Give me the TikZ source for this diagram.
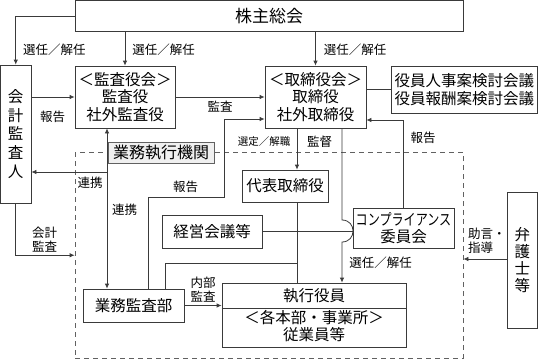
\documentclass[tikz,border=0pt]{standalone}
\usepackage{fontspec}
\usepackage{graphicx}
\newfontfamily\cjk{Noto Sans CJK JP}
\usetikzlibrary{arrows.meta,calc}
\definecolor{ln}{HTML}{3A3A3A}
\begin{document}
\begin{tikzpicture}[x=1pt,y=-1pt,
  box/.style={draw=ln, fill=white, line width=0.8pt, inner sep=0pt, align=center,
    font=\cjk\fontsize{15.5}{17.5}\selectfont},
  txt/.style={inner sep=0pt, align=center, font=\cjk\fontsize{15.5}{17.5}\selectfont},
  lbl/.style={inner sep=0pt, align=center, font=\cjk\fontsize{12.5}{14}\selectfont},
  lblsm/.style={inner sep=0pt, align=center, font=\cjk\fontsize{10.5}{12}\selectfont},
  conn/.style={draw=ln, line width=0.8pt},
  arr/.style={conn, -{Latex[length=5pt,width=4.5pt]}},
  arrtwo/.style={conn, {Latex[length=5pt,width=4.5pt]}-{Latex[length=5pt,width=4.5pt]}}]
\useasboundingbox (0,0) rectangle (538,359);

% dashed execution area
\node[draw=ln!80, line width=0.8pt, dash pattern=on 5pt off 4pt, minimum width=388pt, minimum height=205.5pt, inner sep=0pt] (exec) at (269,255.25) {};

% boxes
\node[box, minimum width=388pt, minimum height=31pt, font=\cjk\fontsize{17}{20}\selectfont] (kabu) at (269,16) {株主総会};
\node[box, minimum width=30.5pt, minimum height=138pt, font=\cjk\fontsize{15.5}{18.7}\selectfont] (kaikei) at (15.75,134) {会\\計\\監\\査\\人};
\node[box, minimum width=100pt, minimum height=62pt] (kansa) at (125,97) {＜監査役会＞\\監査役\\社外監査役};
\node[box, minimum width=101pt, minimum height=62pt] (tori) at (315.5,97) {＜取締役会＞\\取締役\\社外取締役};
\node[box, minimum width=146.5pt, minimum height=47pt] (yakuin) at (464.25,89.5) {役員人事案検討会議\\役員報酬案検討会議};
\node[box, fill=gray!12, draw=ln!80, minimum width=106pt, minimum height=21pt, font=\cjk\fontsize{16}{18}\selectfont] (gyomu) at (161,152.5) {業務執行機関};
\node[box, minimum width=86pt, minimum height=32pt] (daihyo) at (285,186) {代表取締役};
\node[box, minimum width=100pt, minimum height=33pt] (keiei) at (212,231.5) {経営会議等};
\node[box, minimum width=101pt, minimum height=40pt, font=\cjk\fontsize{15.5}{17}\selectfont] (comp) at (403.5,228) {\scalebox{0.78}[1]{コンプライアンス}\\委員会};
\node[box, minimum width=101pt, minimum height=33pt] (gyokan) at (133.5,305.5) {業務監査部};
\node[box, minimum width=184pt, minimum height=64pt] (shikko) at (314,315) {};
\node[txt] (shikkoT) at (314,295.5) {執行役員};
\node[txt] (shikkoB) at (314,326) {＜各本部・事業所＞\\従業員等};
\draw[conn] (shikko.west |- 0,308) -- (shikko.east |- 0,308);
\node[box, minimum width=30.5pt, minimum height=136pt, font=\cjk\fontsize{15.5}{16.8}\selectfont] (bengo) at (522.25,260) {弁\\護\\士\\等};

% helper coordinates
\coordinate (r1) at (403.5,120);
\coordinate (g1) at (148,197);
\coordinate (g2) at (224,197);
\coordinate (g3) at (224,119);
\coordinate (k1) at (107,0);
\coordinate (k2) at (107,172);
\coordinate (d1) at (297,0);
\coordinate (s1) at (342,220);
\coordinate (s2) at (342,242);
\coordinate (h1) at (165,263);
\coordinate (b1) at (0,259);

% connectors
\draw[arr] (kabu.west) -| (kaikei.north);
\draw[arr] (kansa.north |- kabu.south) -- (kansa.north);
\draw[arr] (tori.north |- kabu.south) -- (tori.north);
\draw[arr] (kaikei.east |- kansa.west) -- (kansa.west);
\draw[arr] (kansa.east) -- (tori.west);
\draw[conn] (tori.east |- yakuin.west) -- (yakuin.west);
\draw[arr] (comp.north) -- (r1) -- (r1 -| tori.east);
\draw[arr] (g1 |- gyokan.north) -- (g1) -- (g2) -- (g3) -- (g3 -| tori.west);
\draw[arrtwo] (k1 |- kansa.south) -- (k1 |- gyokan.north);
\draw[arr] (k2) -- (k2 -| kaikei.east);
\draw[arr] (kaikei.south) |- (exec.west);
\draw[arr] (d1 |- tori.south) -- (d1 |- daihyo.north);
\draw[conn] (d1 |- daihyo.south) -- (d1 |- shikko.north);
\draw[conn] (keiei.east) -- (keiei.east -| comp.west);
\draw[arr] (s1 |- tori.south) -- (s1) .. controls ($(s1)+(14.7,0)$) and ($(s2)+(14.7,0)$) .. (s2) -- (s2 |- shikko.north);
\draw[conn] (h1 |- gyokan.north) -- (h1) -- (h1 -| d1);
\draw[arr] (gyokan.east) -- (gyokan.east -| shikko.west);
\draw[arr] (b1 -| bengo.west) -- (b1 -| exec.east);

% labels
\node[lbl] (l1) at (54.5,50) {選任／解任};
\node[lbl] (l2) at (163.5,50) {選任／解任};
\node[lbl] (l3) at (355,50) {選任／解任};
\node[lbl] (l4) at (52.5,117) {報告};
\node[lbl] (l5) at (220,107) {監査};
\node[lbl] (l6) at (423,138) {報告};
\node[lblsm] (l7) at (264,142) {選定／解職};
\node[lbl] (l8) at (319.5,142) {監督};
\node[lbl] (l9) at (185.5,187) {報告};
\node[lbl] (l10) at (90,183) {連携};
\node[lbl] (l11) at (124.5,210) {連携};
\node[lbl, font=\cjk\fontsize{12.5}{14}\selectfont] (l12) at (44.5,240) {会計\\監査};
\node[lbl] (l13) at (203,289.5) {内部\\監査};
\node[lbl] (l14) at (380.5,263) {選任／解任};
\node[lbl, align=left, anchor=west] (l15) at (468,240.5) {助言・\\指導};
\end{tikzpicture}
\end{document}
